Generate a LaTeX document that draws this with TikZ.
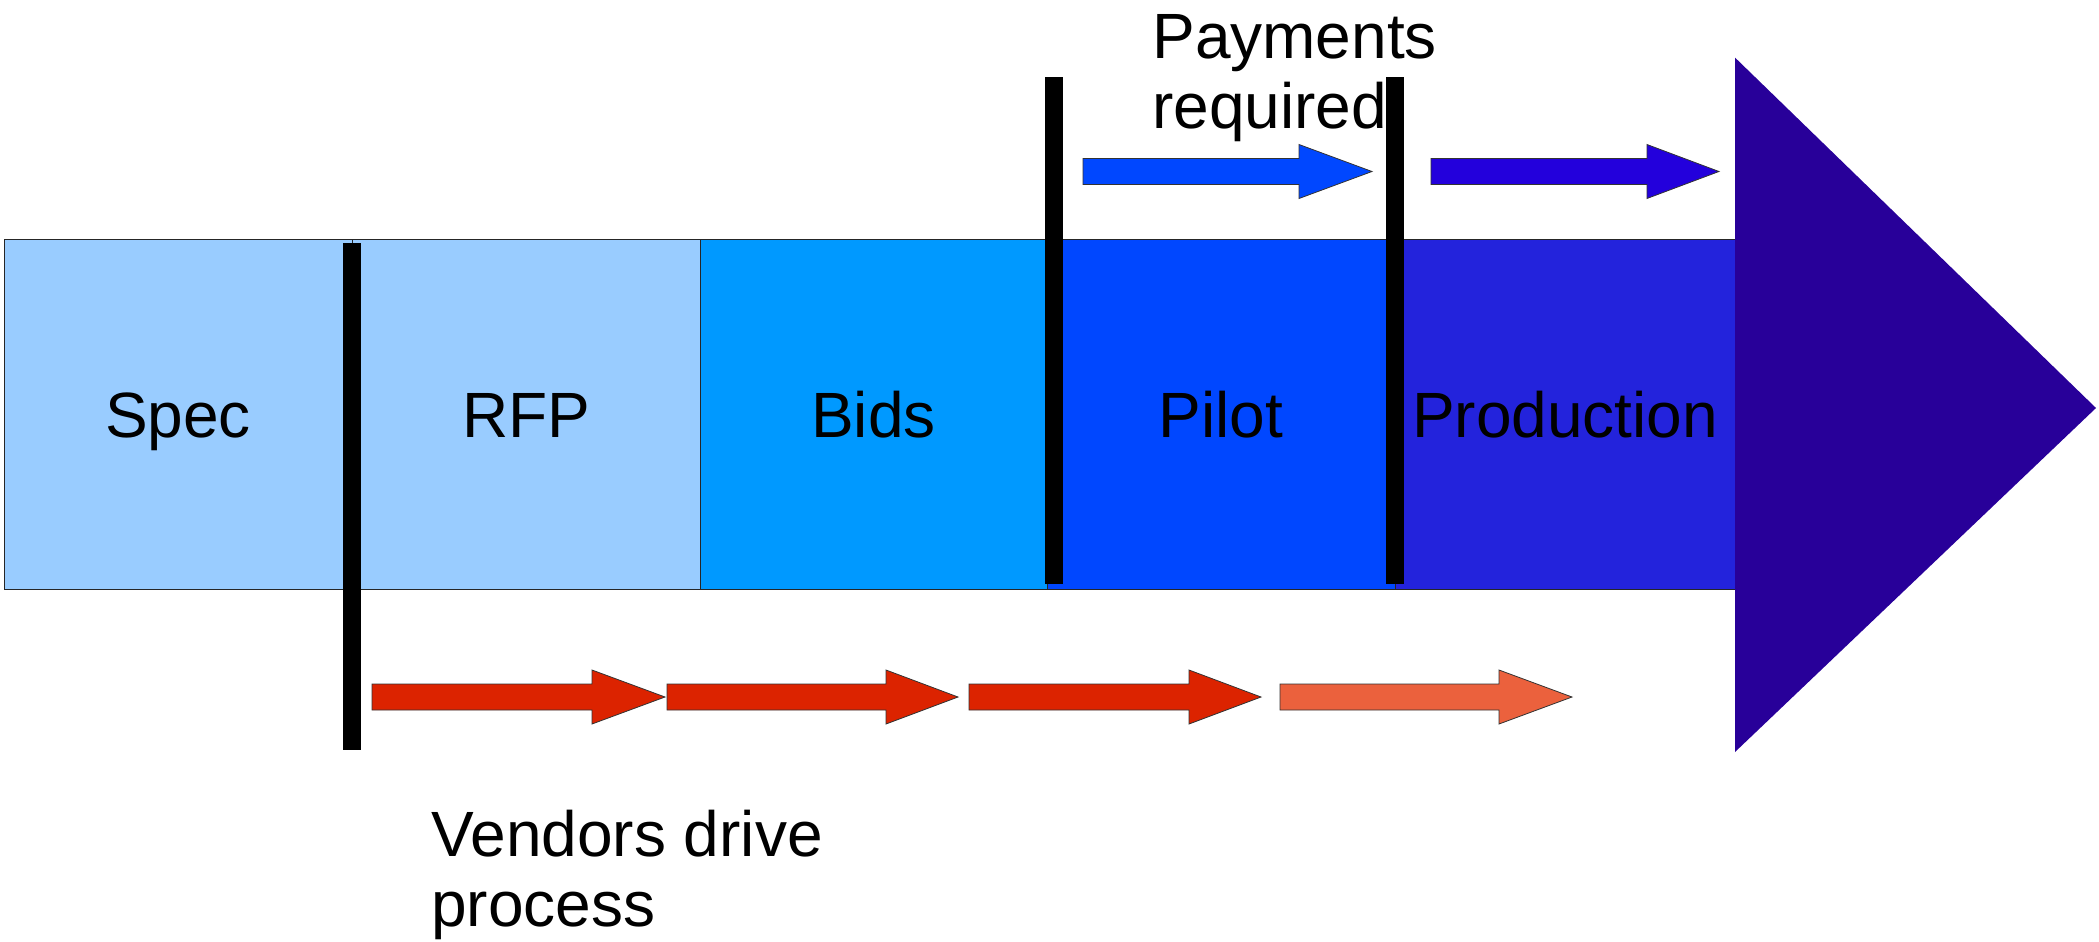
\documentclass[tikz,border=0pt]{standalone}
\usepackage{fontspec}
\setmainfont{Liberation Sans}
\definecolor{skyc}{HTML}{99CCFF}
\definecolor{bidsc}{HTML}{0099FF}
\definecolor{pilotc}{HTML}{0047FF}
\definecolor{prodc}{HTML}{2323DC}
\definecolor{tric}{HTML}{280099}
\definecolor{arrowb}{HTML}{2300DC}
\definecolor{redc}{HTML}{DC2300}
\definecolor{lredc}{HTML}{EB613D}
\newcommand\blkarrow[5]{%
  \draw[blockarrow,fill=#5] (#1,#4-13) -- (#2,#4-13) -- (#2,#4-27) -- (#3,#4)
    -- (#2,#4+27) -- (#2,#4+13) -- (#1,#4+13) -- cycle;}
\begin{document}
\begin{tikzpicture}[x=0.5pt,y=-0.5pt,
  stage/.style={draw=black!85,line width=0.5pt,minimum height=174.75pt,
    inner sep=0pt,text height=23pt,text depth=0pt,
    font=\fontsize{32}{35}\selectfont},
  bar/.style={fill=black,draw=none,minimum width=9pt,minimum height=253.5pt,inner sep=0pt},
  blockarrow/.style={draw=black!80,line width=0.4pt},
  note/.style={font=\fontsize{32}{35}\selectfont,align=left,inner sep=0pt,anchor=base west}]
\useasboundingbox (0,0) rectangle (2099,942);
% stage boxes
\node[stage,fill=skyc,minimum width=174pt] (spec) at (178,414.25) {Spec};
\node[stage,fill=skyc,minimum width=174pt] (rfp) at (526,414.25) {RFP};
\node[stage,fill=bidsc,minimum width=173.5pt] (bids) at (873.5,414.25) {Bids};
\node[stage,fill=pilotc,minimum width=174pt] (pilot) at (1221,414.25) {Pilot};
\node[stage,fill=prodc,minimum width=170pt] (prod) at (1565,414.25) {Production};
% big arrow head
\path[fill=tric] (1735,57.6) -- (2096,408) -- (1735,752) -- cycle;
% texts
\node[note] (pay) at (1152,128) {Payments\\required};
\node[note] (vend) at (431,926) {Vendors drive\\process};
% bars
\node[bar] (bar1) at (352,496.5) {};
\node[bar] (bar2) at (1054,330.5) {};
\node[bar] (bar3) at (1394.5,330.5) {};
% block arrows
\blkarrow{1083}{1299}{1372}{171.5}{pilotc}
\blkarrow{1431}{1647}{1719}{171.5}{arrowb}
\blkarrow{372}{592}{665}{697}{redc}
\blkarrow{667}{886}{958}{697}{redc}
\blkarrow{969}{1189}{1261}{697}{redc}
\blkarrow{1280}{1499}{1572}{697}{lredc}
\end{tikzpicture}
\end{document}
